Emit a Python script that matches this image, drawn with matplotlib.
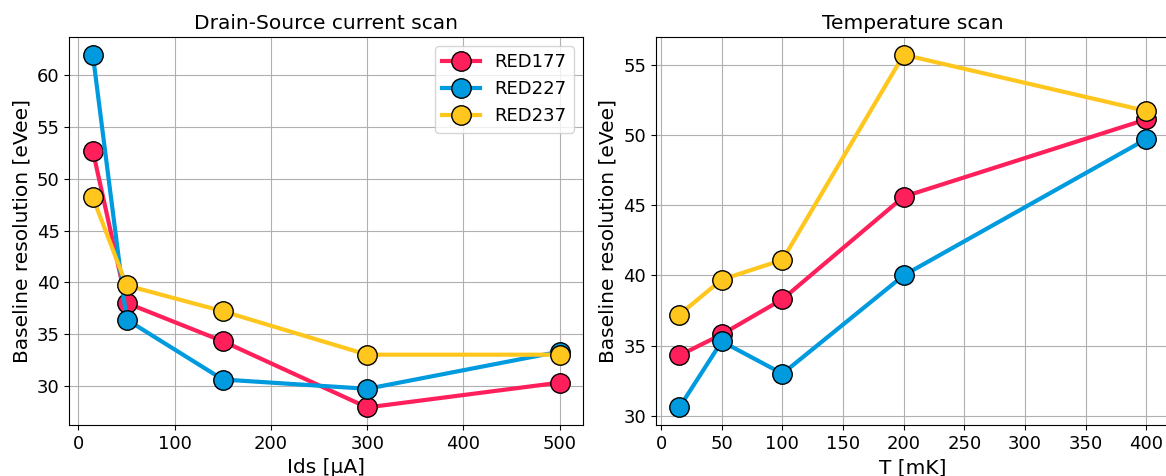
import numpy as np
import matplotlib.pyplot as plt

# drain-source current scan
ids = [15, 50, 150, 300, 500]
ids_red177 = [52.7, 38.0, 34.3, 27.9, 30.3]
ids_red227 = [62.0, 36.4, 30.6, 29.7, 33.3]
ids_red237 = [48.2, 39.7, 37.2, 33.0, 33.0]

# temperature scan
temp = [15, 50, 100, 200, 400]
t_red177 = [34.3, 35.8, 38.3, 45.6, 51.1]
t_red227 = [30.6, 35.3, 33.0, 40.0, 49.7]
t_red237 = [37.2, 39.7, 41.1, 55.7, 51.7]

labels = ["RED177", "RED227", "RED237"]
colors = ["#FF1F5B", "#009ADE", "#FFC61E"]

plt.rcParams["font.size"] = 13
plt.rcParams["axes.titlesize"] = 14.5
plt.rcParams["axes.labelsize"] = 14.5

fig = plt.figure(figsize=(11.66, 4.76), dpi=100)
ax1 = fig.add_axes([0.0596, 0.107, 0.4405, 0.815])
ax2 = fig.add_axes([0.5626, 0.107, 0.4405, 0.815])

for ys, lab, c in zip([ids_red177, ids_red227, ids_red237], labels, colors):
    ax1.plot(ids, ys, "-o", color=c, label=lab, linewidth=3, markersize=14,
             markeredgecolor="black", markeredgewidth=1)
for ys, lab, c in zip([t_red177, t_red227, t_red237], labels, colors):
    ax2.plot(temp, ys, "-o", color=c, label=lab, linewidth=3, markersize=14,
             markeredgecolor="black", markeredgewidth=1)

ax1.set_title("Drain-Source current scan")
ax1.set_xlabel("Ids [μA]")
ax1.set_ylabel("Baseline resolution [eVee]")
ax1.set_xticks([0, 100, 200, 300, 400, 500])
ax1.grid(True, color="#b0b0b0", linewidth=0.8)
ax1.legend(loc="upper right", fontsize=13, handlelength=2.1)

ax2.set_title("Temperature scan")
ax2.set_xlabel("T [mK]")
ax2.set_ylabel("Baseline resolution [eVee]")
ax2.set_xticks(np.arange(0, 401, 50))
ax2.grid(True, color="#b0b0b0", linewidth=0.8)

fig.savefig("out.png", dpi=100)
